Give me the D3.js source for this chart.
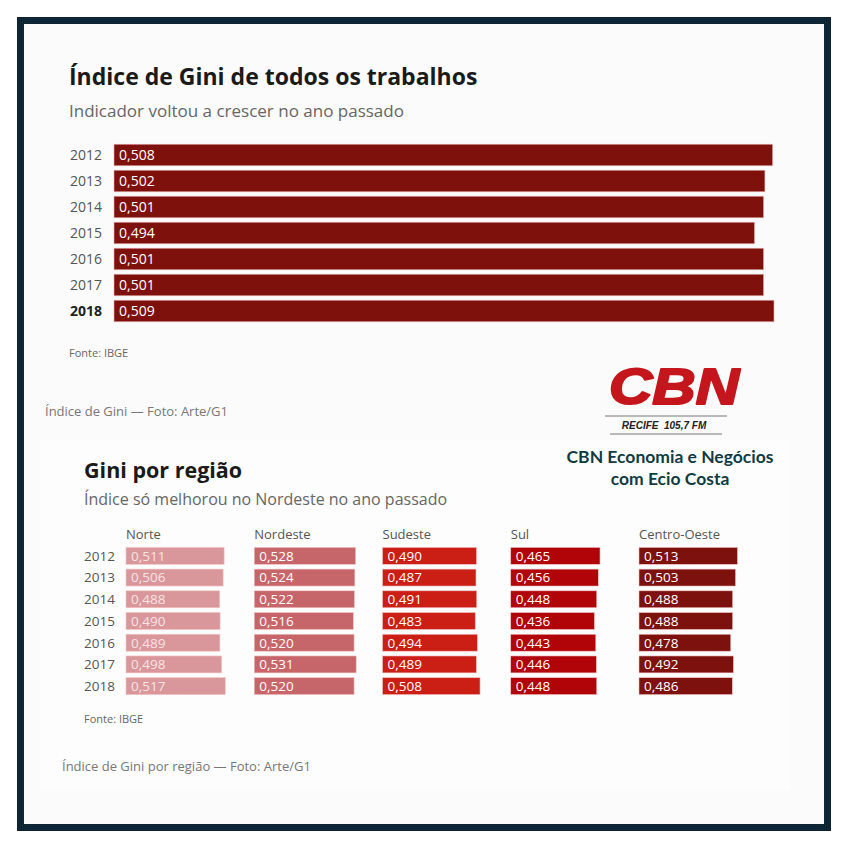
<!DOCTYPE html>
<html>
<head>
<meta charset="utf-8">
<script src="https://cdn.jsdelivr.net/npm/d3@7"></script>
<style>
  body { margin: 0; background: #fff; }
  svg { display: block; font-family: "Open Sans", sans-serif; }
</style>
</head>
<body>
<svg id="svgRoot" width="850" height="850"></svg>
<script>
// data
const years = ["2012", "2013", "2014", "2015", "2016", "2017", "2018"]
const giniTotal = [0.508, 0.502, 0.501, 0.494, 0.501, 0.501, 0.509]

const regions = ["Norte", "Nordeste", "Sudeste", "Sul", "Centro-Oeste"]
const norte = [0.511, 0.506, 0.488, 0.490, 0.489, 0.498, 0.517]
const nordeste = [0.528, 0.524, 0.522, 0.516, 0.520, 0.531, 0.520]
const sudeste = [0.490, 0.487, 0.491, 0.483, 0.494, 0.489, 0.508]
const sul = [0.465, 0.456, 0.448, 0.436, 0.443, 0.446, 0.448]
const centroOeste = [0.513, 0.503, 0.488, 0.488, 0.478, 0.492, 0.486]

const regionColors = ["#d9979b", "#c6666a", "#cb1e15", "#b00408", "#7c110d"]

const fmt = (v) => d3.format(".3f")(v).replace(".", ",")

function draw_vis() {
  let svg = d3.select("#svgRoot")

  // background + frame
  svg.append("rect").attr("x", 20.5).attr("y", 20.5).attr("width", 807).attr("height", 807)
    .attr("fill", "#fbfbfc").attr("stroke", "#0d2535").attr("stroke-width", 7)
  svg.append("rect").attr("x", 40).attr("y", 440).attr("width", 750).attr("height", 350)
    .attr("fill", "#ffffff").attr("opacity", 0.6)

  // ---------- top chart ----------
  let g_top = svg.append("g").attr("class", "g_top")

  g_top.append("text").attr("x", 69).attr("y", 85)
    .attr("font-size", 23).attr("font-weight", 700).attr("fill", "#1a1a1a")
    .text("Índice de Gini de todos os trabalhos")
  g_top.append("text").attr("x", 69).attr("y", 117)
    .attr("font-size", 17).attr("fill", "#666")
    .text("Indicador voltou a crescer no ano passado")

  let topData = years.map((y, i) => ({ year: y, value: giniTotal[i] }))

  let scale_x = d3.scaleLinear().domain([0, 0.509]).range([114, 774])
  let scale_y = d3.scaleBand().domain(years).range([142, 324])
    .paddingInner(0.17).paddingOuter(0.085)

  g_top.selectAll(".bar").data(topData).enter()
    .append("rect")
    .attr("class", "bar")
    .attr("x", scale_x(0))
    .attr("y", (d) => scale_y(d.year))
    .attr("width", (d) => scale_x(d.value) - scale_x(0))
    .attr("height", scale_y.bandwidth())
    .attr("fill", "#7f110d")
    .attr("stroke", "#e9b6b4").attr("stroke-width", 0.6)

  g_top.selectAll(".year").data(topData).enter()
    .append("text")
    .attr("x", 102)
    .attr("y", (d) => scale_y(d.year) + scale_y.bandwidth() / 2)
    .attr("dy", "0.36em")
    .attr("text-anchor", "end")
    .attr("font-size", 14)
    .attr("font-weight", (d) => d.year === "2018" ? 700 : 400)
    .attr("fill", (d) => d.year === "2018" ? "#222" : "#555")
    .text((d) => d.year)

  g_top.selectAll(".val").data(topData).enter()
    .append("text")
    .attr("x", scale_x(0) + 5)
    .attr("y", (d) => scale_y(d.year) + scale_y.bandwidth() / 2)
    .attr("dy", "0.36em")
    .attr("font-size", 14).attr("fill", "#fff")
    .text((d) => fmt(d.value))

  g_top.append("text").attr("x", 69).attr("y", 357)
    .attr("font-size", 11).attr("fill", "#666").text("Fonte: IBGE")
  svg.append("text").attr("x", 45).attr("y", 416)
    .attr("font-size", 13).attr("fill", "#777").text("Índice de Gini — Foto: Arte/G1")

  // ---------- CBN logo ----------
  let g_logo = svg.append("g").attr("class", "g_logo")
  g_logo.append("text").attr("x", 674).attr("y", 404).attr("text-anchor", "middle")
    .attr("font-family", "Liberation Sans, sans-serif").attr("font-size", 50)
    .attr("font-weight", 700).attr("font-style", "italic").attr("fill", "#c4161c")
    .attr("stroke", "#c4161c").attr("stroke-width", 2).attr("stroke-linejoin", "round")
    .attr("textLength", 130).attr("lengthAdjust", "spacingAndGlyphs")
    .text("CBN")
  g_logo.append("line").attr("x1", 605).attr("x2", 727).attr("y1", 416).attr("y2", 416)
    .attr("stroke", "#777").attr("stroke-width", 1)
  g_logo.append("line").attr("x1", 610).attr("x2", 722).attr("y1", 434).attr("y2", 434)
    .attr("stroke", "#777").attr("stroke-width", 1)
  g_logo.append("text").attr("x", 664).attr("y", 429).attr("text-anchor", "middle")
    .attr("font-family", "Liberation Sans, sans-serif").attr("font-size", 10)
    .attr("font-weight", 700).attr("font-style", "italic").attr("fill", "#222")
    .attr("xml:space", "preserve")
    .text("RECIFE  105,7 FM")
  g_logo.append("text").attr("x", 670).attr("y", 463).attr("text-anchor", "middle")
    .attr("font-family", "Lato, sans-serif").attr("font-size", 17.5)
    .attr("font-weight", 700).attr("fill", "#113b44")
    .text("CBN Economia e Negócios")
  g_logo.append("text").attr("x", 670).attr("y", 485).attr("text-anchor", "middle")
    .attr("font-family", "Lato, sans-serif").attr("font-size", 17.5)
    .attr("font-weight", 700).attr("fill", "#113b44")
    .text("com Ecio Costa")

  // ---------- bottom chart ----------
  let g_bot = svg.append("g").attr("class", "g_bot")

  g_bot.append("text").attr("x", 84).attr("y", 478)
    .attr("font-size", 21.5).attr("font-weight", 700).attr("fill", "#1a1a1a")
    .text("Gini por região")
  g_bot.append("text").attr("x", 84).attr("y", 505)
    .attr("font-size", 16).attr("fill", "#666")
    .text("Índice só melhorou no Nordeste no ano passado")

  let series = [norte, nordeste, sudeste, sul, centroOeste]
  let cells = []
  regions.forEach((r, j) => {
    years.forEach((y, i) => cells.push({ region: r, year: y, value: series[j][i], ci: j }))
  })

  let scale_col = d3.scaleBand().domain(regions).range([126, 126 + 5 * 128.25])
  let scale_len = d3.scaleLinear().domain([0, 0.5]).range([0, 96])
  let scale_row = d3.scaleBand().domain(years).range([545, 697])
    .paddingInner(0.22).paddingOuter(0.11)

  g_bot.selectAll(".head").data(regions).enter()
    .append("text")
    .attr("x", (d) => scale_col(d))
    .attr("y", 539)
    .attr("font-size", 13).attr("fill", "#555")
    .text((d) => d)

  g_bot.selectAll(".year").data(years).enter()
    .append("text")
    .attr("x", 115)
    .attr("y", (d) => scale_row(d) + scale_row.bandwidth() / 2)
    .attr("dy", "0.36em")
    .attr("text-anchor", "end")
    .attr("font-size", 13.5).attr("fill", "#555")
    .text((d) => d)

  g_bot.selectAll(".cell").data(cells).enter()
    .append("rect")
    .attr("class", "cell")
    .attr("x", (d) => scale_col(d.region))
    .attr("y", (d) => scale_row(d.year))
    .attr("width", (d) => scale_len(d.value))
    .attr("height", scale_row.bandwidth())
    .attr("fill", (d) => regionColors[d.ci])
    .attr("stroke", "#f2c4c4").attr("stroke-width", 0.6)

  g_bot.selectAll(".cellval").data(cells).enter()
    .append("text")
    .attr("x", (d) => scale_col(d.region) + 5)
    .attr("y", (d) => scale_row(d.year) + scale_row.bandwidth() / 2)
    .attr("dy", "0.36em")
    .attr("font-size", 13.5)
    .attr("fill", (d) => d.ci === 0 ? "#f7e4e4" : "#fff")
    .text((d) => fmt(d.value))

  g_bot.append("text").attr("x", 84).attr("y", 723)
    .attr("font-size", 11).attr("fill", "#666").text("Fonte: IBGE")
  svg.append("text").attr("x", 62).attr("y", 771)
    .attr("font-size", 13).attr("fill", "#777").text("Índice de Gini por região — Foto: Arte/G1")
}

draw_vis()
</script>
</body>
</html>
